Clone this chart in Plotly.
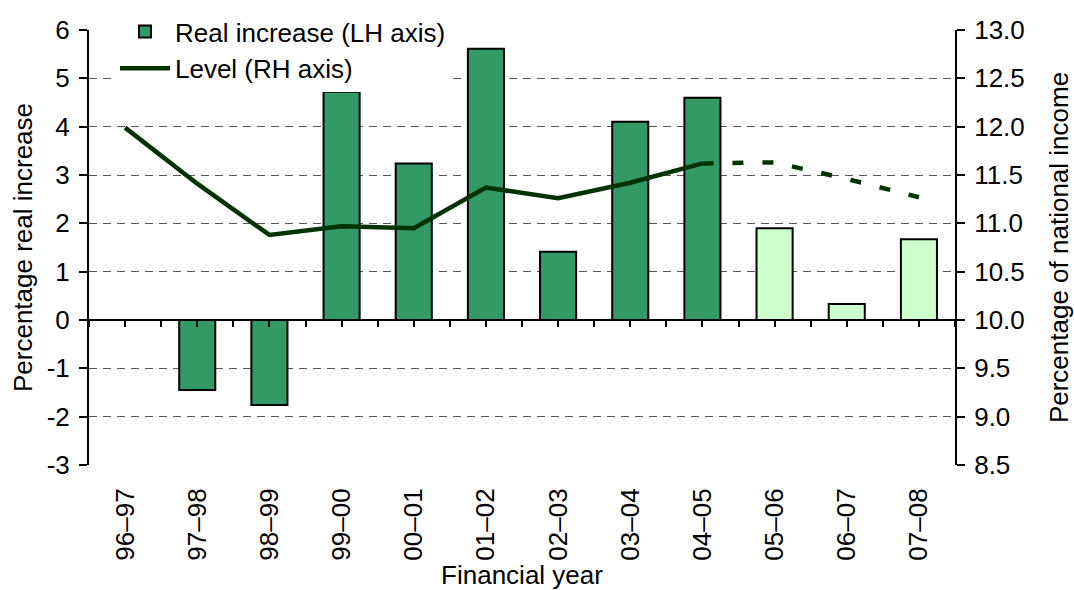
import plotly.graph_objects as go

years = ["96–97", "97–98", "98–99", "99–00", "00–01", "01–02",
         "02–03", "03–04", "04–05", "05–06", "06–07", "07–08"]
real_increase = [None, -1.45, -1.76, 4.72, 3.24, 5.61, 1.41, 4.1, 4.6, 1.9, 0.33, 1.67]
is_forecast = [False] * 9 + [True] * 3
level_outturn = [11.99, 11.41, 10.88, 10.97, 10.95, 11.37, 11.26, 11.42, 11.62, None, None, None]
level_forecast = [None] * 8 + [11.62, 11.63, 11.46, 11.27]

left_ticks = [-3, -2, -1, 0, 1, 2, 3, 4, 5, 6]
left_tick_text = [str(v) for v in left_ticks]

DARK_BAR = "#339966"
LIGHT_BAR = "#CCFFCC"
LINE = "#003300"
FONT = "Liberation Sans, Arial, sans-serif"
FS = 26

bar_colors = [LIGHT_BAR if f else DARK_BAR for f in is_forecast]

fig = go.Figure()
fig.add_trace(go.Bar(
    x=years, y=real_increase, name="Real increase (LH axis)",
    marker=dict(color=bar_colors, line=dict(color="black", width=2)),
    width=0.5, yaxis="y", xaxis="x", legendrank=1,
))
fig.add_trace(go.Scatter(
    x=years, y=level_outturn, name="Level (RH axis)", mode="lines",
    line=dict(color=LINE, width=4.5), yaxis="y2", xaxis="x", legendrank=2,
))
fig.add_trace(go.Scatter(
    x=years, y=level_forecast, mode="lines", showlegend=False,
    line=dict(color=LINE, width=4.5, dash="11px,19px"), yaxis="y2", xaxis="x",
))
# invisible helper so the zero-line axis is drawn
fig.add_trace(go.Scatter(x=[], y=[], xaxis="x2", yaxis="y", showlegend=False, hoverinfo="skip"))

fig.update_layout(
    width=1074, height=590,
    margin=dict(l=89, r=119, t=30, b=125, autoexpand=False),
    paper_bgcolor="white", plot_bgcolor="white",
    font=dict(family=FONT, size=FS, color="black"),
    showlegend=True,
    legend=dict(x=0.03, y=1 - 8 / 590, xref="paper", yref="container",
                xanchor="left", yanchor="top",
                bgcolor="white", font=dict(size=FS), tracegroupgap=0,
                itemwidth=50),
    xaxis=dict(
        type="category", categoryorder="array", categoryarray=years,
        range=[-0.5, 11.5], showline=False, showgrid=False, zeroline=False,
        tickangle=-90, ticks="outside", ticklen=12, tickcolor="rgba(0,0,0,0)",
        tickfont=dict(size=FS), automargin=False,
        title=dict(text="Financial year", standoff=16, font=dict(size=FS)),
    ),
    xaxis2=dict(
        overlaying="x", anchor="free", position=1/3, range=[-0.5, 11.5],
        showline=True, linecolor="black", linewidth=2,
        ticks="outside", ticklen=6, tickwidth=2, tickcolor="black",
        tick0=-0.5, dtick=0.5, showticklabels=False, showgrid=False, zeroline=False,
    ),
    yaxis=dict(
        range=[-3, 6], tickvals=left_ticks, ticktext=left_tick_text,
        showline=True, linecolor="black", linewidth=2,
        ticks="outside", ticklen=8, tickwidth=2, tickcolor="black",
        ticklabelstandoff=4,
        showgrid=True, gridcolor="#555555", gridwidth=1, griddash="8px,6px",
        zeroline=False, tickfont=dict(size=FS), automargin=False,
        title=dict(text="Percentage real increase", standoff=7, font=dict(size=FS)),
    ),
    yaxis2=dict(
        overlaying="y", side="right", range=[8.5, 13.0], tick0=8.5, dtick=0.5,
        tickformat=".1f", showline=True, linecolor="black", linewidth=2,
        ticks="outside", ticklen=8, tickwidth=2, tickcolor="black",
        ticklabelstandoff=4,
        showgrid=False, zeroline=False, tickfont=dict(size=FS), automargin=False,
        title=dict(text="Percentage of national income", standoff=32, font=dict(size=FS)),
    ),
)

fig.write_html("out.html", config={"displayModeBar": False},
               post_script="document.body.style.margin='0';")
